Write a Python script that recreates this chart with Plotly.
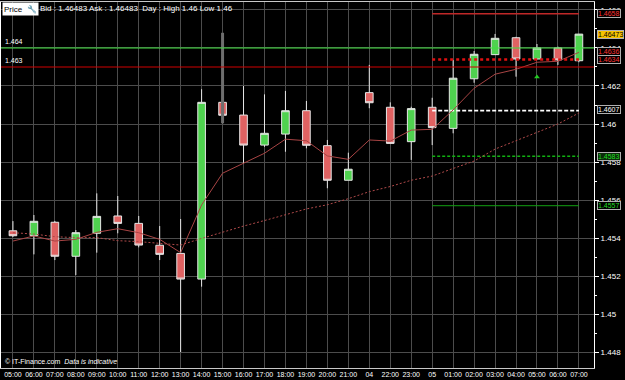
import plotly.graph_objects as go

# ---------------- data ----------------
hour_labels = ["05:00", "06:00", "07:00", "08:00", "09:00", "10:00", "11:00", "12:00",
               "13:00", "14:00", "15:00", "16:00", "17:00", "18:00", "19:00", "20:00",
               "21:00", "04", "22:00", "23:00", "05", "01:00", "02:00", "03:00",
               "04:00", "05:00", "06:00", "07:00"]
open_p = [1.45438, 1.45412, 1.45483, 1.45304, 1.45425, 1.45516, 1.45477, 1.45362,
          1.45319, 1.45184, 1.46114, 1.46047, 1.45889, 1.45947, 1.46070, 1.45886,
          1.45704, 1.46165, 1.46088, 1.45907, 1.46088, 1.45977, 1.46238, 1.46365,
          1.46454, 1.46342, 1.46400, 1.46333]
high_p = [1.45489, 1.45521, 1.45490, 1.45442, 1.45635, 1.45621, 1.45516, 1.45463,
          1.45500, 1.46183, 1.46114, 1.46200, 1.46156, 1.46174, 1.46121, 1.45916,
          1.45849, 1.46311, 1.46114, 1.46091, 1.46138, 1.46337, 1.46384, 1.46474,
          1.46459, 1.46421, 1.46407, 1.46474]
low_p = [1.45405, 1.45314, 1.45284, 1.45205, 1.45323, 1.45425, 1.45351, 1.45284,
         1.44800, 1.45144, 1.46004, 1.45793, 1.45880, 1.45854, 1.45872, 1.45662,
         1.45704, 1.46083, 1.45898, 1.45811, 1.45889, 1.45951, 1.46217, 1.46365,
         1.46249, 1.46340, 1.46311, 1.46325]
close_p = [1.45412, 1.45488, 1.45304, 1.45428, 1.45514, 1.45477, 1.45363, 1.45314,
           1.45184, 1.46114, 1.46046, 1.45889, 1.45951, 1.46070, 1.45888, 1.45704,
           1.45762, 1.46112, 1.45898, 1.46081, 1.45981, 1.46241, 1.46367, 1.46451,
           1.46342, 1.46400, 1.46337, 1.46473]
ma_fast = [1.45384, 1.45411, 1.45384, 1.45393, 1.45430, 1.45449, 1.45428, 1.45393,
           1.45323, 1.45574, 1.45741, 1.45793, 1.45846, 1.45920, 1.45912, 1.45832,
           1.45814, 1.45916, 1.45910, 1.45968, 1.45972, 1.46074, 1.46188, 1.46262,
           1.46288, 1.46325, 1.46330, 1.46377]
ma_slow = [1.45428, 1.45421, 1.45407, 1.45402, 1.45402, 1.45386, 1.45381, 1.45372,
           1.45363, 1.45398, 1.45432, 1.45463, 1.45492, 1.45524, 1.45553, 1.45575,
           1.45607, 1.45644, 1.45671, 1.45704, 1.45726, 1.45766, 1.45805, 1.45868,
           1.45911, 1.45955, 1.46000, 1.46058]

y_ticks = [1.466, 1.464, 1.462, 1.46, 1.458, 1.456, 1.454, 1.452, 1.45, 1.448]
y_tick_text = ["1.466", "1.464", "1.462", "1.46", "1.458", "1.456", "1.454", "1.452", "1.45", "1.448"]
y_minor_ticks = [1.465, 1.463, 1.461, 1.459, 1.457, 1.455, 1.453, 1.451, 1.449, 1.447]

full_levels = [1.464, 1.463]
full_level_text = ["1.464", "1.463"]
short_start, short_end = 20, 27
short_levels = [1.4658, 1.4634, 1.4607, 1.4583, 1.4557]
spike_slot, spike_top, spike_bottom = 10, 1.4648, 1.46004
signal_slot, signal_price = 25, 1.46247
last_price = 1.46473

x = list(range(len(hour_labels)))

fig = go.Figure()

# highlighted spike band
fig.add_trace(go.Scatter(x=[spike_slot, spike_slot], y=[spike_top, spike_bottom], mode="lines",
                         line=dict(color="#6e6e6e", width=3), hoverinfo="skip", showlegend=False))

# full width levels
full_cols = ["#3ee03e", "#d00000"]
for lv, c in zip(full_levels, full_cols):
    fig.add_shape(type="line", xref="paper", x0=0, x1=1, yref="y", y0=lv, y1=lv,
                  line=dict(color=c, width=1.2), layer="above")

# short levels
short_styles = [dict(color="#c02828", width=1.6),
                dict(color="#e01010", width=2.5, dash="dot"),
                dict(color="#ffffff", width=1.8, dash="4px,2px"),
                dict(color="#10b010", width=1.5, dash="3px,2px"),
                dict(color="#12a012", width=1)]
for lv, st in zip(short_levels, short_styles):
    fig.add_trace(go.Scatter(x=[short_start, short_end], y=[lv, lv], mode="lines",
                             line=st, hoverinfo="skip", showlegend=False))

# moving averages
fig.add_trace(go.Scatter(x=x, y=ma_slow, mode="lines", line=dict(color="#b04a4a", width=1, dash="2px,2px"),
                         showlegend=False, hoverinfo="skip"))
fig.add_trace(go.Scatter(x=x, y=ma_fast, mode="lines", line=dict(color="#a84444", width=1),
                         showlegend=False, hoverinfo="skip"))

# candles
fig.add_trace(go.Candlestick(
    x=x, open=open_p, high=high_p, low=low_p, close=close_p,
    increasing=dict(fillcolor="#4fd24f", line=dict(color="#e6e6e6", width=1)),
    decreasing=dict(fillcolor="#e06262", line=dict(color="#e6e6e6", width=1)),
    showlegend=False))

# signal marker
fig.add_trace(go.Scatter(x=[signal_slot], y=[signal_price], mode="markers",
                         marker=dict(symbol="triangle-up", size=5, color="#22cc22"),
                         showlegend=False, hoverinfo="skip"))

font = "Liberation Sans, Arial, sans-serif"

# left labels of full levels
for lv, t in zip(full_levels, full_level_text):
    fig.add_annotation(x=0.004, xref="paper", y=lv, yref="y", text=t, showarrow=False,
                       xanchor="left", yanchor="bottom", yshift=1,
                       font=dict(color="white", size=7, family=font))

# right price boxes
boxes = [(1.4658, "1.4658", "#ff3030", "#000000", 0),
         (1.4636, "1.4636", "#ff3030", "#000000", 4),
         (1.4634, "1.4634", "#ff3030", "#000000", 0),
         (1.4607, "1.4607", "#ffffff", "#000000", 1),
         (1.4583, "1.4583", "#22dd22", "#0a2a0a", 0),
         (1.4557, "1.4557", "#22dd22", "#000000", 0),
         (last_price, "1.46473", "#000000", "#f5c400", 0)]
for lv, t, fc, bg, ys in boxes:
    fig.add_annotation(x=1.005, xref="paper", y=lv, yref="y", text=t, showarrow=False,
                       xanchor="left", yanchor="middle", yshift=ys,
                       font=dict(color=fc, size=7, family=font),
                       bgcolor=bg, bordercolor="#b0b0b0", borderwidth=1, borderpad=0)

# header
fig.add_annotation(x=0, xref="paper", y=1, yref="paper", text="Price  \U0001F527", showarrow=False,
                   xanchor="left", yanchor="top", xshift=1,
                   font=dict(color="#000000", size=8, family=font),
                   bgcolor="#ffffff", borderpad=1)
fig.add_annotation(x=0.062, xref="paper", y=1, yref="paper",
                   text="Bid : 1.46483 Ask : 1.46483  Day : High 1.46 Low 1.46", showarrow=False,
                   xanchor="left", yanchor="top",
                   font=dict(color="#ffffff", size=8, family=font))
fig.add_annotation(x=0, xref="paper", y=0, yref="paper",
                   text="© IT-Finance.com  <i>Data is indicative</i>", showarrow=False,
                   xanchor="left", yanchor="bottom", xshift=2, yshift=1,
                   font=dict(color="#ffffff", size=7, family=font))

fig.update_layout(
    width=625, height=380,
    margin=dict(l=1, r=31, t=2, b=12),
    paper_bgcolor="#000000", plot_bgcolor="#000000",
    boxgap=0.48,
    showlegend=False,
    font=dict(family=font, color="white", size=8),
    xaxis=dict(range=[-0.57, 27.72], tickvals=x, ticktext=hour_labels, tickangle=0,
               showgrid=True, gridcolor="#4c4c4c", gridwidth=1,
               showline=True, linecolor="#c8c8c8", mirror=True, ticks="", ticklen=0,
               tickfont=dict(size=7, color="white", family=font),
               rangeslider=dict(visible=False), zeroline=False, fixedrange=True),
    yaxis=dict(range=[1.44716, 1.46642], side="right", tickvals=y_ticks, ticktext=y_tick_text,
               showgrid=True, gridcolor="#4c4c4c", gridwidth=1,
               showline=True, linecolor="#ffffff", mirror=True,
               ticks="outside", ticklen=4, tickcolor="#ffffff",
               minor=dict(tickvals=y_minor_ticks,
                          ticks="outside", ticklen=2, tickcolor="#ffffff", showgrid=False),
               tickfont=dict(size=8, color="white", family=font), zeroline=False, fixedrange=True),
)

fig.write_html("out.html")
